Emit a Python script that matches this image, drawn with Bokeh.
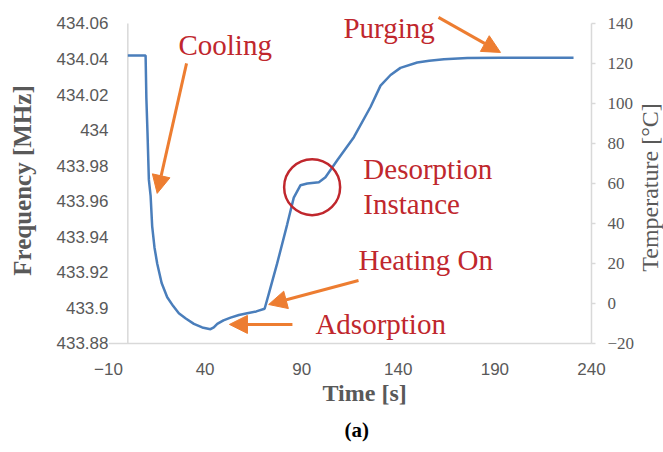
import math

from bokeh.plotting import figure
from bokeh.models import (Range1d, FixedTicker, NumeralTickFormatter,
                          Arrow, NormalHead, Label, Title)
from bokeh.embed import file_html
from bokeh.resources import INLINE

# Measured sensor response: resonance frequency over time
time_s = [0, 9.2, 9.6, 10.2, 10.9, 11.8, 12.6, 13.8, 15.2, 17.5, 20.4, 23.5,
          26.4, 30, 34.2, 38.5, 42.8, 44.5, 46.3, 49.5, 53.2, 57.5, 61.8, 66.5,
          70.8, 73, 77.3, 82.5, 85.9, 89.4, 92.9, 98.9, 102.3, 108.4, 117,
          125.6, 130.8, 136, 141.1, 149.8, 156, 163.6, 175.7, 192.9, 210, 230.7]
freq_mhz = [434.042, 434.042, 434.018, 433.998, 433.972, 433.963, 433.946,
            433.934, 433.925, 433.914, 433.906, 433.901, 433.897, 433.894,
            433.891, 433.889, 433.888, 433.889, 433.891, 433.893, 433.8945,
            433.896, 433.897, 433.898, 433.8995, 433.908, 433.925, 433.947,
            433.962, 433.969, 433.970, 433.9707, 433.9735, 433.983, 433.996,
            434.013, 434.025, 434.031, 434.035, 434.038, 434.039, 434.0398,
            434.0405, 434.0407, 434.0407, 434.0407]

time_ticks = [-10, 40, 90, 140, 190, 240]
freq_ticks = [433.88, 433.9, 433.92, 433.94, 433.96, 433.98, 434, 434.02,
              434.04, 434.06]
temp_ticks = [-20, 0, 20, 40, 60, 80, 100, 120, 140]
temp_labels = ["\u221220", "0", "20", "40", "60", "80", "100", "120", "140"]

GREY = "#595959"
AXIS_GREY = "#D9D9D9"
RED = "#C0272D"
ORANGE = "#ED7D31"
BLUE = "#4A7EBB"
SERIF = "Liberation Serif"
SANS = "Liberation Sans"

T_MIN, T_MAX = time_ticks[0], time_ticks[-1]
F_MIN, F_MAX = freq_ticks[0], freq_ticks[-1]
C_MIN, C_MAX = temp_ticks[0], temp_ticks[-1]

# The plot area runs to the right edge of the canvas so the secondary
# (temperature) scale can be drawn beside t = 240 s, with a little room
# above and below the tick range for arrows and the lowest scale label.
p = figure(width=663, height=452, output_backend="svg", toolbar_location=None,
           x_range=Range1d(T_MIN, 277.27), y_range=Range1d(433.8749, 434.0684),
           min_border_left=108, min_border_right=0, min_border_top=8,
           min_border_bottom=100, y_axis_label="Frequency [MHz]")
p.outline_line_color = None
p.grid.visible = False
p.border_fill_color = "white"
p.background_fill_color = "white"
p.extra_y_ranges = {"temp": Range1d(-24.5, 147.5)}

# bottom axis: tick labels only, its line is drawn at the lowest frequency
xa = p.xaxis[0]
xa.ticker = FixedTicker(ticks=time_ticks)
xa.major_label_overrides = {-10: "\u221210"}
xa.axis_line_color = None
xa.major_tick_line_color = None
xa.minor_tick_line_color = None
xa.major_tick_out = 0
xa.major_label_standoff = 10

# left axis (labels only, the value axis line sits at t = 0)
ya = p.yaxis[0]
ya.ticker = FixedTicker(ticks=freq_ticks)
ya.formatter = NumeralTickFormatter(format="0.[00]")
ya.axis_line_color = None
ya.major_tick_line_color = None
ya.minor_tick_line_color = None
ya.major_tick_out = 0
ya.major_label_standoff = 0
ya.axis_label_standoff = 18
ya.axis_label_text_font_size = "25px"

for ax in (xa, ya):
    ax.major_label_text_font = SANS
    ax.major_label_text_font_size = "17px"
    ax.major_label_text_color = GREY
    ax.axis_label_text_font = SERIF
    ax.axis_label_text_color = GREY
    ax.axis_label_text_font_style = "bold"

# axis lines: time axis at the lowest frequency, value axis at t = 0
p.segment(x0=[T_MIN, 0], y0=[F_MIN, F_MIN], x1=[T_MAX, 0], y1=[F_MIN, F_MAX],
          line_color=AXIS_GREY, line_width=1.5)

# secondary temperature scale at t = 240 s
n = len(temp_ticks)
p.segment(x0=[T_MAX], y0=[C_MIN], x1=[T_MAX], y1=[C_MAX],
          y_range_name="temp", line_color=AXIS_GREY, line_width=1.5)
p.ray(x=[T_MAX] * n, y=temp_ticks, length=4, length_units="screen", angle=0,
      y_range_name="temp", line_color=AXIS_GREY, line_width=1.5)
p.text(x=[T_MAX] * n, y=temp_ticks, text=temp_labels, x_offset=16,
       y_range_name="temp", text_font=SANS, text_font_size="17px",
       text_color=GREY, text_align="left", text_baseline="middle")
p.text(x=[270.3], y=[58], text=["Temperature [°C]"], angle=math.pi / 2,
       y_range_name="temp", text_font=SERIF, text_font_size="24px",
       text_color=GREY, text_align="center", text_baseline="middle")

p.line(time_s, freq_mhz, line_color=BLUE, line_width=2.5)

# desorption marker
p.scatter([95.4], [433.9679], marker="circle", size=56, fill_color=None,
          line_color=RED, line_width=2.5)

# phase arrows
arrows = [
    ((30.4, 434.0375), (15.2, 433.9644)),   # cooling
    ((160.8, 434.0634), (192.9, 434.0437)),  # purging
    ((119.4, 433.9154), (72.9, 433.9019)),   # heating on
    ((85.2, 433.8907), (52.6, 433.8907)),    # adsorption
]
for (x0, y0), (x1, y1) in arrows:
    p.add_layout(Arrow(x_start=x0, y_start=y0, x_end=x1, y_end=y1,
                       line_color=ORANGE, line_width=3,
                       end=NormalHead(size=18, fill_color=ORANGE,
                                      line_color=ORANGE, line_width=1)))

phase_labels = [
    ("Cooling", 26.2, 434.0476),
    ("Purging", 111.6, 434.0572),
    ("Desorption", 121.9, 433.9779),
    ("Instance", 121.9, 433.9587),
    ("Heating On", 119.4, 433.9272),
    ("Adsorption", 97.1, 433.8912),
]
for txt, x, y in phase_labels:
    p.add_layout(Label(x=x, y=y, text=txt, text_font=SERIF,
                       text_font_size="29px", text_color=RED,
                       text_align="left", text_baseline="alphabetic"))

# time axis title and panel tag below the plot
p.add_layout(Title(text="Time [s]", text_font=SERIF, text_font_size="24px",
                   text_font_style="bold", text_color=GREY,
                   align="left", offset=214, standoff=0), "below")
p.add_layout(Title(text="(a)", text_font=SERIF, text_font_size="21px",
                   text_font_style="bold", text_color="black",
                   align="left", offset=236, standoff=21), "below")

open("out.html", "w").write(file_html(p, INLINE))
